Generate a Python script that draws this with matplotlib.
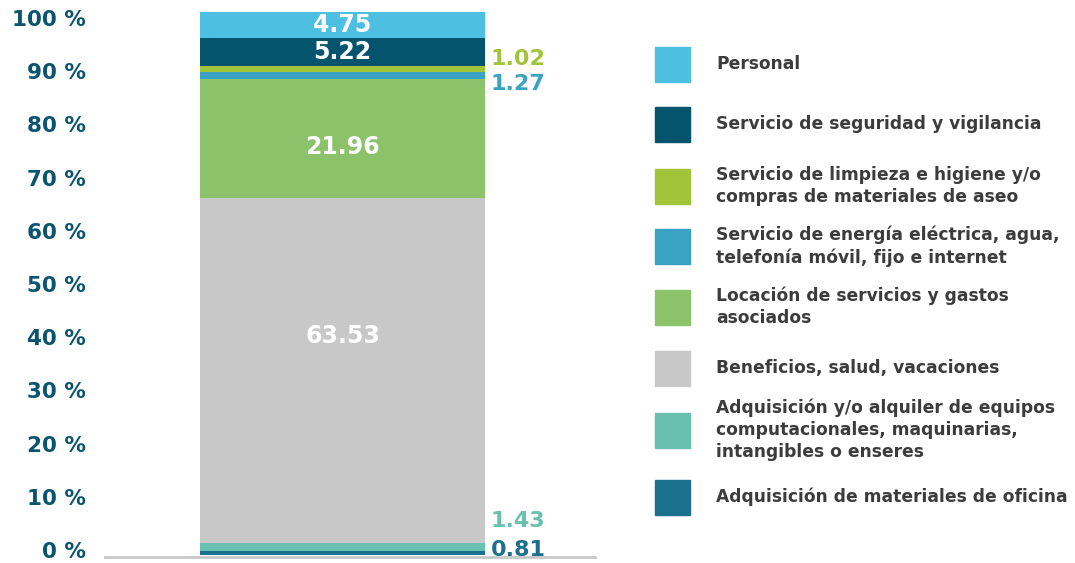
import matplotlib
matplotlib.use("Agg")
import matplotlib.pyplot as plt
from matplotlib.patches import Rectangle

# Data (bottom to top)
categories = [
    "Adquisición de materiales de oficina",
    "Adquisición y/o alquiler de equipos\ncomputacionales, maquinarias,\nintangibles o enseres",
    "Beneficios, salud, vacaciones",
    "Locación de servicios y gastos\nasociados",
    "Servicio de energía eléctrica, agua,\ntelefonía móvil, fijo e internet",
    "Servicio de limpieza e higiene y/o\ncompras de materiales de aseo",
    "Servicio de seguridad y vigilancia",
    "Personal",
]
values = [0.81, 1.43, 63.53, 21.96, 1.27, 1.02, 5.22, 4.75]
colors = ["#1b708e", "#69c0b0", "#c8c8c8", "#8cc36a", "#3aa2c2", "#a2c43a", "#04546e", "#4dbfe0"]
inside = [False, False, True, True, False, False, True, True]
yticks = [0, 10, 20, 30, 40, 50, 60, 70, 80, 90, 100]
ytick_labels = [f"{t} %" for t in yticks]

plt.rcParams['font.family'] = ['DejaVu Sans']

fig = plt.figure(figsize=(10.75, 5.63), dpi=100)
ax = fig.add_axes([105/1075, 8/563, 490/1075, 543/563])

# label anchor heights (fraction of segment) to mimic the reference placement
label_frac = [0.5, 0.5, 0.6, 0.43, 0.5, 0.5, 0.5, 0.5]

bottom = 0
for v, c, ins, fr in zip(values, colors, inside, label_frac):
    ax.bar(0, v, bottom=bottom, width=1.0, color=c, edgecolor='none')
    if ins:
        ax.text(0, bottom + v*fr, f"{v:.2f}", ha='center', va='center',
                color='white', fontsize=17, fontweight='bold')
    bottom += v

# outside labels
ax.text(0.52, 91.3, "1.02", color=colors[5], fontsize=16, fontweight='bold', ha='left', va='center')
ax.text(0.52, 86.7, "1.27", color=colors[4], fontsize=16, fontweight='bold', ha='left', va='center')
ax.text(0.52, 6.2, "1.43", color=colors[1], fontsize=16, fontweight='bold', ha='left', va='center')
ax.text(0.52, 0.9, "0.81", color=colors[0], fontsize=16, fontweight='bold', ha='left', va='center')

ax.set_xlim(-0.833, 0.886)
ax.set_ylim(0, 100)
ax.set_yticks([0.9 + t*0.98 for t in yticks])
ax.set_yticklabels(ytick_labels, fontsize=15.5, fontweight='heavy', color='#0b5470')
ax.tick_params(axis='y', length=0, pad=14)
ax.set_xticks([])
for s in ['top', 'right', 'left']:
    ax.spines[s].set_visible(False)
ax.spines['bottom'].set_color('#c8c8c8')
ax.spines['bottom'].set_linewidth(2)
ax.spines['bottom'].set_position(('data', -0.4))

# legend (top to bottom)
leg_y = [64, 124, 186, 246, 307, 368, 430, 497]
for i, (lab, c) in enumerate(zip(categories[::-1], colors[::-1])):
    yc = leg_y[i]
    fig.patches.append(Rectangle((655/1075, 1 - (yc + 17.5)/563), 35/1075, 35/563,
                                 transform=fig.transFigure, color=c))
    fig.text(716/1075, 1 - yc/563, lab, ha='left', va='center', fontsize=12.3,
             fontweight='bold', color='#3c3c3c', linespacing=1.3)

fig.savefig("out.png", dpi=100)
